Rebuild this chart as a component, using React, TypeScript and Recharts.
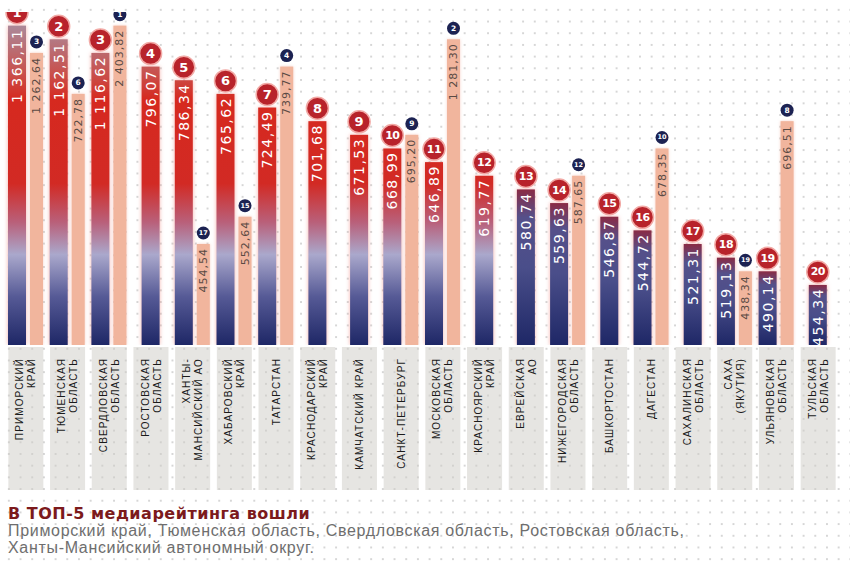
import { BarChart, Bar, XAxis, YAxis } from "recharts"

// regions in order of the current rating
const regions = [
  "ПРИМОРСКИЙ\nКРАЙ",
  "ТЮМЕНСКАЯ\nОБЛАСТЬ",
  "СВЕРДЛОВСКАЯ\nОБЛАСТЬ",
  "РОСТОВСКАЯ\nОБЛАСТЬ",
  "ХАНТЫ-\nМАНСИЙСКИЙ АО",
  "ХАБАРОВСКИЙ\nКРАЙ",
  "ТАТАРСТАН",
  "КРАСНОДАРСКИЙ\nКРАЙ",
  "КАМЧАТСКИЙ КРАЙ",
  "САНКТ-ПЕТЕРБУРГ",
  "МОСКОВСКАЯ\nОБЛАСТЬ",
  "КРАСНОЯРСКИЙ\nКРАЙ",
  "ЕВРЕЙСКАЯ\nАО",
  "НИЖЕГОРОДСКАЯ\nОБЛАСТЬ",
  "БАШКОРТОСТАН",
  "ДАГЕСТАН",
  "САХАЛИНСКАЯ\nОБЛАСТЬ",
  "САХА\n(ЯКУТИЯ)",
  "УЛЬЯНОВСКАЯ\nОБЛАСТЬ",
  "ТУЛЬСКАЯ\nОБЛАСТЬ",
]

const rating = [
  1366.11, 1162.51, 1116.62, 796.07, 786.34, 765.62, 724.49, 701.68, 671.53, 668.99,
  646.89, 619.77, 580.74, 559.63, 546.87, 544.72, 521.31, 519.13, 490.14, 454.34,
]
const ranks = [1, 2, 3, 4, 5, 6, 7, 8, 9, 10, 11, 12, 13, 14, 15, 16, 17, 18, 19, 20]

// previous period (only where shown)
const prevRating = [
  1262.64, 722.78, 2403.82, null, 454.54, 552.64, 739.77, null, null, 695.2,
  1281.3, null, null, 587.65, null, 678.35, null, 438.34, 696.51, null,
]
const prevRanks = [3, 6, 1, null, 17, 15, 4, null, null, 9, 2, null, null, 12, null, 10, null, 19, 8, null]

const BASE = 24.4

const data = regions.map((name, i) => ({
  name,
  rating: rating[i],
  rank: ranks[i],
  prev: prevRating[i],
  prevRank: prevRanks[i],
}))

const fmt = (v: number) => {
  const [int, dec] = v.toFixed(2).split(".")
  return int.replace(/\B(?=(\d{3})+(?!\d))/g, " ") + "," + dec
}

function MainBar(props: any) {
  const { x, y, width, height, payload } = props
  if (!payload || height == null || isNaN(y)) return null
  const bx = payload.prevRank == null ? x + 8.5 : x
  const cx = bx + width / 2
  const fill = payload.rank <= 12 ? "url(#mainGrad)" : "url(#shortGrad)"
  return (
    <g>
      <rect
        x={bx}
        y={y}
        width={width}
        height={height}
        fill={fill}
        style={{ filter: "drop-shadow(0 0 2px rgba(235,110,100,0.55))" }}
      />
      <text
        transform={`translate(${cx},${y + 3}) rotate(-90)`}
        textAnchor="end"
        dominantBaseline="central"
        fill="#fff"
        fontSize={14}
        letterSpacing={1.5}
        fontFamily="DejaVu Sans"
      >
        {fmt(payload.rating)}
      </text>
      <circle cx={cx} cy={y - 13} r={11} fill="#b8232b" stroke="#f2aaa6" strokeWidth={1.5} />
      <text
        x={cx}
        y={y - 13}
        textAnchor="middle"
        dominantBaseline="central"
        fill="#fff"
        fontWeight="bold"
        fontFamily="DejaVu Sans"
        fontSize={payload.rank >= 10 ? 11 : 13}
        letterSpacing={payload.rank >= 10 ? -0.5 : 0}
      >
        {payload.rank}
      </text>
    </g>
  )
}

function PrevBar(props: any) {
  const { x, y, width, height, payload } = props
  if (!payload || payload.prevRank == null || height == null || isNaN(y)) return null
  const cx = x + width / 2
  return (
    <g>
      <rect
        x={x}
        y={y}
        width={width}
        height={height}
        fill="#f1b59d"
        style={{ filter: "drop-shadow(0 0 1.5px rgba(240,160,140,0.5))" }}
      />
      <text
        transform={`translate(${cx},${y + 4}) rotate(-90)`}
        textAnchor="end"
        dominantBaseline="central"
        fill="#5a4a44"
        fontSize={11}
        letterSpacing={1}
        fontFamily="DejaVu Sans"
      >
        {fmt(payload.prev)}
      </text>
      <circle cx={cx} cy={y - 11} r={6.5} fill="#1c2252" />
      <text
        x={cx}
        y={y - 11}
        textAnchor="middle"
        dominantBaseline="central"
        fill="#fff"
        fontWeight="bold"
        fontFamily="DejaVu Sans"
        fontSize={payload.prevRank >= 10 ? 6.5 : 7.5}
      >
        {payload.prevRank}
      </text>
    </g>
  )
}

function RegionTick(props: any) {
  const { x, y, payload } = props
  const lines = String(payload.value).split("\n")
  const top = y + 2
  return (
    <g>
      <rect x={x - 17.5} y={top} width={35} height={143} fill="rgba(205,203,197,0.5)" />
      <text
        transform={`translate(${x},${top + 11}) rotate(-90)`}
        textAnchor="end"
        fontSize={10}
        letterSpacing={1.1}
        fill="#1a1a1a"
        fontFamily="Liberation Sans"
      >
        {lines.map((l, i) => (
          <tspan key={i} x={0} y={(i - (lines.length - 1) / 2) * 12 + 3.6}>
            {l}
          </tspan>
        ))}
      </text>
    </g>
  )
}

export default function App() {
  return (
    <div
      style={{
        position: "absolute",
        left: 0,
        top: 0,
        width: 850,
        height: 568,
        background: "#fff",
        backgroundImage: "radial-gradient(circle, #d6d6d6 1px, transparent 1.4px)",
        backgroundSize: "11.7px 11.7px",
        backgroundPosition: "3px 4px",
        overflow: "hidden",
      }}
    >
      <BarChart
        width={850}
        height={568}
        data={data}
        margin={{ top: 12, right: 11, bottom: 73, left: 5 }}
        barGap={4}
      >
        <defs>
          <linearGradient id="mainGrad" gradientUnits="userSpaceOnUse" x1="0" y1="22" x2="0" y2="345">
            <stop offset="0" stopColor="#a98d9f" />
            <stop offset="0.16" stopColor="#c9504c" />
            <stop offset="0.24" stopColor="#d6291f" />
            <stop offset="0.5" stopColor="#d22a24" />
            <stop offset="0.62" stopColor="#b9607a" />
            <stop offset="0.72" stopColor="#aaa8cc" />
            <stop offset="0.85" stopColor="#565a96" />
            <stop offset="1" stopColor="#1e2766" />
          </linearGradient>
          <linearGradient id="shortGrad" x1="0" y1="0" x2="0" y2="1">
            <stop offset="0" stopColor="#8a2b45" />
            <stop offset="0.18" stopColor="#55508a" />
            <stop offset="0.5" stopColor="#4a4e8a" />
            <stop offset="1" stopColor="#1e2766" />
          </linearGradient>
        </defs>
        <XAxis
          dataKey="name"
          interval={0}
          height={150}
          tickSize={0}
          tickMargin={0}
          axisLine={false}
          tickLine={false}
          tick={<RegionTick />}
        />
        <YAxis hide type="number" domain={[0, BASE]} reversed allowDataOverflow />
        <Bar
          dataKey={(d: any) => [BASE, d.rank]}
          barSize={18}
          shape={(p: any) => <MainBar {...p} />}
          isAnimationActive={false}
        />
        <Bar
          dataKey={(d: any) => (d.prevRank == null ? [BASE, BASE] : [BASE, d.prevRank])}
          barSize={13}
          shape={(p: any) => <PrevBar {...p} />}
          isAnimationActive={false}
        />
      </BarChart>
      <div
        style={{
          position: "absolute",
          left: 8,
          top: 505,
          fontFamily: "DejaVu Sans",
          fontWeight: "bold",
          fontSize: 16,
          letterSpacing: 0.5,
          color: "#7c1a1c",
          lineHeight: "17px",
          whiteSpace: "nowrap",
        }}
      >
        В ТОП-5 медиарейтинга вошли
      </div>
      <div
        style={{
          position: "absolute",
          left: 8,
          top: 523,
          fontFamily: "Liberation Sans",
          fontSize: 16,
          letterSpacing: 0.68,
          color: "#6e6e6e",
          lineHeight: "16.5px",
          whiteSpace: "nowrap",
        }}
      >
        Приморский край, Тюменская область, Свердловская область, Ростовская область,
        <br />
        Ханты-Мансийский автономный округ.
      </div>
    </div>
  )
}
